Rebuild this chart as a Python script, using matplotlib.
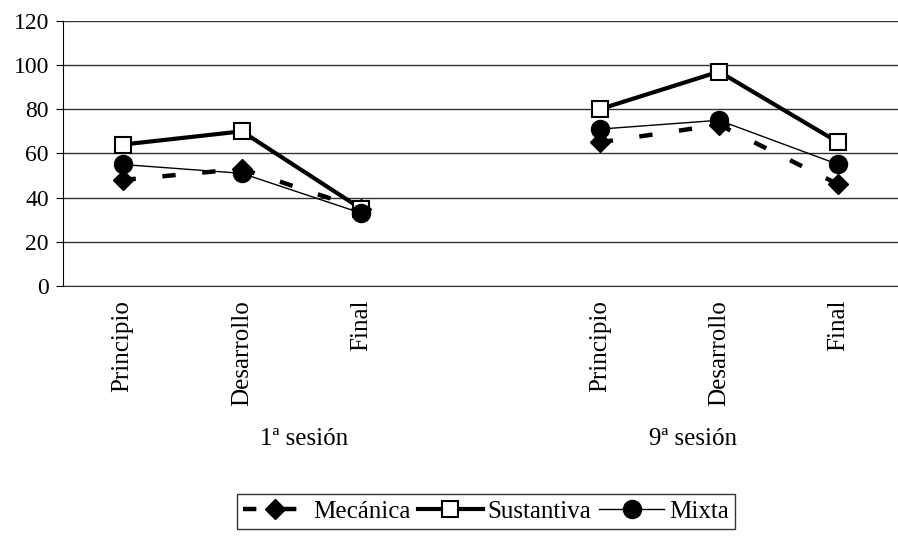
import matplotlib.pyplot as plt
import numpy as np

plt.rcParams['font.family'] = ['Liberation Serif', 'DejaVu Serif']

# categories (the blank one separates the two sessions)
categories = ['Principio', 'Desarrollo', 'Final', '', 'Principio', 'Desarrollo', 'Final']
sessions = ['1ª sesión', '9ª sesión']

mecanica = [48, 53, 35, np.nan, 65, 73, 46]
sustantiva = [64, 70, 35, np.nan, 80, 97, 65]
mixta = [55, 51, 33, np.nan, 71, 75, 55]

x = np.arange(len(categories))

fig = plt.figure(figsize=(8.98, 5.47), dpi=100)
ax = fig.add_axes([0.070, 0.477, 0.93, 0.485])

ax.plot(x, mecanica, color='black', lw=3.2, dashes=(3, 6), marker='D',
        markersize=10, markerfacecolor='black', markeredgecolor='black',
        label='Mecánica', zorder=3)
ax.plot(x, sustantiva, color='black', lw=3, marker='s', markersize=11.5,
        markerfacecolor='white', markeredgecolor='black', markeredgewidth=1.5,
        label='Sustantiva', zorder=4)
ax.plot(x, mixta, color='black', lw=1, marker='o', markersize=13,
        markerfacecolor='black', markeredgecolor='black',
        label='Mixta', zorder=5)

ax.set_xlim(-0.5, 6.5)
ax.set_ylim(0, 120)
ax.set_yticks(range(0, 121, 20))
ax.yaxis.grid(True, color='#333333', lw=1)
ax.set_axisbelow(True)
ax.tick_params(axis='y', labelsize=17, length=5, direction='out', pad=5)
ax.set_xticks(x)
ax.set_xticklabels(categories, rotation=90, fontsize=18)
ax.tick_params(axis='x', length=0, pad=10)
for side in ['top', 'right']:
    ax.spines[side].set_visible(False)
ax.spines['left'].set_color('black')
ax.spines['bottom'].set_color('#333333')

for pos, name in zip([1.52, 4.78], sessions):
    ax.text(pos, -0.575, name, transform=ax.get_xaxis_transform(),
            ha='center', va='center', fontsize=18)

leg = fig.legend(loc='center', bbox_to_anchor=(0.541, 0.065), ncol=3,
                 fontsize=18, frameon=True, fancybox=False, edgecolor='black',
                 handlelength=2.6, handletextpad=0.2, columnspacing=0.3,
                 borderpad=0.25, numpoints=1)
leg.get_frame().set_linewidth(1)

fig.savefig('out.png', dpi=100)
